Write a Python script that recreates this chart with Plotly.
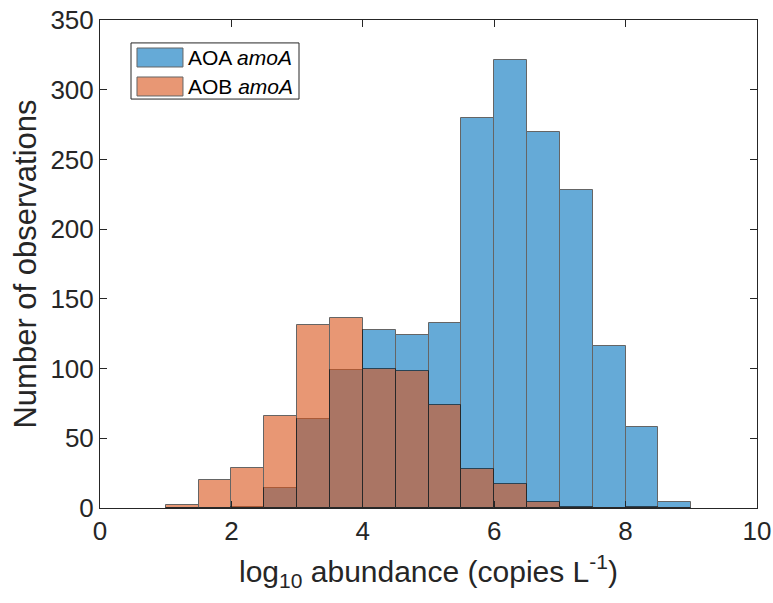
import plotly.graph_objects as go

bin_left = [1.0, 1.5, 2.0, 2.5, 3.0, 3.5, 4.0, 4.5, 5.0, 5.5, 6.0, 6.5, 7.0, 7.5, 8.0, 8.5]
aoa_counts = [0, 0, 1, 14, 64, 99, 128, 124, 133, 280, 321, 270, 228, 116, 58, 4]
aob_counts = [2, 20, 29, 66, 131, 136, 100, 98, 74, 28, 17, 4, 1, 0, 1, 0]
series_names = ["AOA <i>amoA</i>", "AOB <i>amoA</i>"]
series_colors = ["rgb(0,114,189)", "rgb(217,83,25)"]
bin_width = 0.5
centers = [b + bin_width / 2 for b in bin_left]

FONT = "Liberation Sans, Arial, Helvetica"
fig = go.Figure()
for counts, name, color in zip([aoa_counts, aob_counts], series_names, series_colors):
    fig.add_trace(go.Bar(
        x=centers, y=counts, width=bin_width, name=name, showlegend=False,
        marker=dict(color=color, line=dict(color="black", width=1)),
        opacity=0.6,
    ))

axis_common = dict(
    showline=True, linecolor="#262626", linewidth=1, mirror="ticks",
    ticks="inside", ticklen=7, tickcolor="#262626", showgrid=False, zeroline=False,
    automargin=False,
    tickfont=dict(family=FONT, size=26, color="#262626"),
)
fig.update_layout(
    barmode="overlay",
    width=773, height=603,
    margin=dict(l=100, r=16, t=20, b=95),
    plot_bgcolor="white", paper_bgcolor="white",
    font=dict(family=FONT, color="#262626"),
    xaxis=dict(range=[0, 10], tickvals=[0, 2, 4, 6, 8, 10],
               title=dict(text="log<sub>10</sub> abundance (copies L<sup>-1</sup>)",
                          font=dict(size=30)),
               **axis_common),
    yaxis=dict(range=[0, 350], tickvals=[0, 50, 100, 150, 200, 250, 300, 350],
               title=dict(text="Number of observations", font=dict(size=31), standoff=4),
               **axis_common),
    bargap=0,
)

# legend (MATLAB style: wide swatches in a framed box)
fig.add_shape(type="rect", xref="paper", yref="paper", x0=0.0472, x1=0.3029, y0=0.838, y1=0.953,
              line=dict(color="#262626", width=1), fillcolor="white", layer="above")
sw_y = [(0.9037, 0.9426), (0.8443, 0.8832)]
for (y0, y1), name, color in zip(sw_y, series_names, series_colors):
    fig.add_shape(type="rect", xref="paper", yref="paper", x0=0.0563, x1=0.1263, y0=y0, y1=y1,
                  line=dict(color="black", width=1), fillcolor=color, opacity=0.6, layer="above")
    fig.add_annotation(x=0.1309, y=(y0 + y1) / 2, xref="paper", yref="paper", text=name,
                       showarrow=False, xanchor="left", yanchor="middle",
                       font=dict(family=FONT, size=21, color="black"))

fig.write_html("out.html")
